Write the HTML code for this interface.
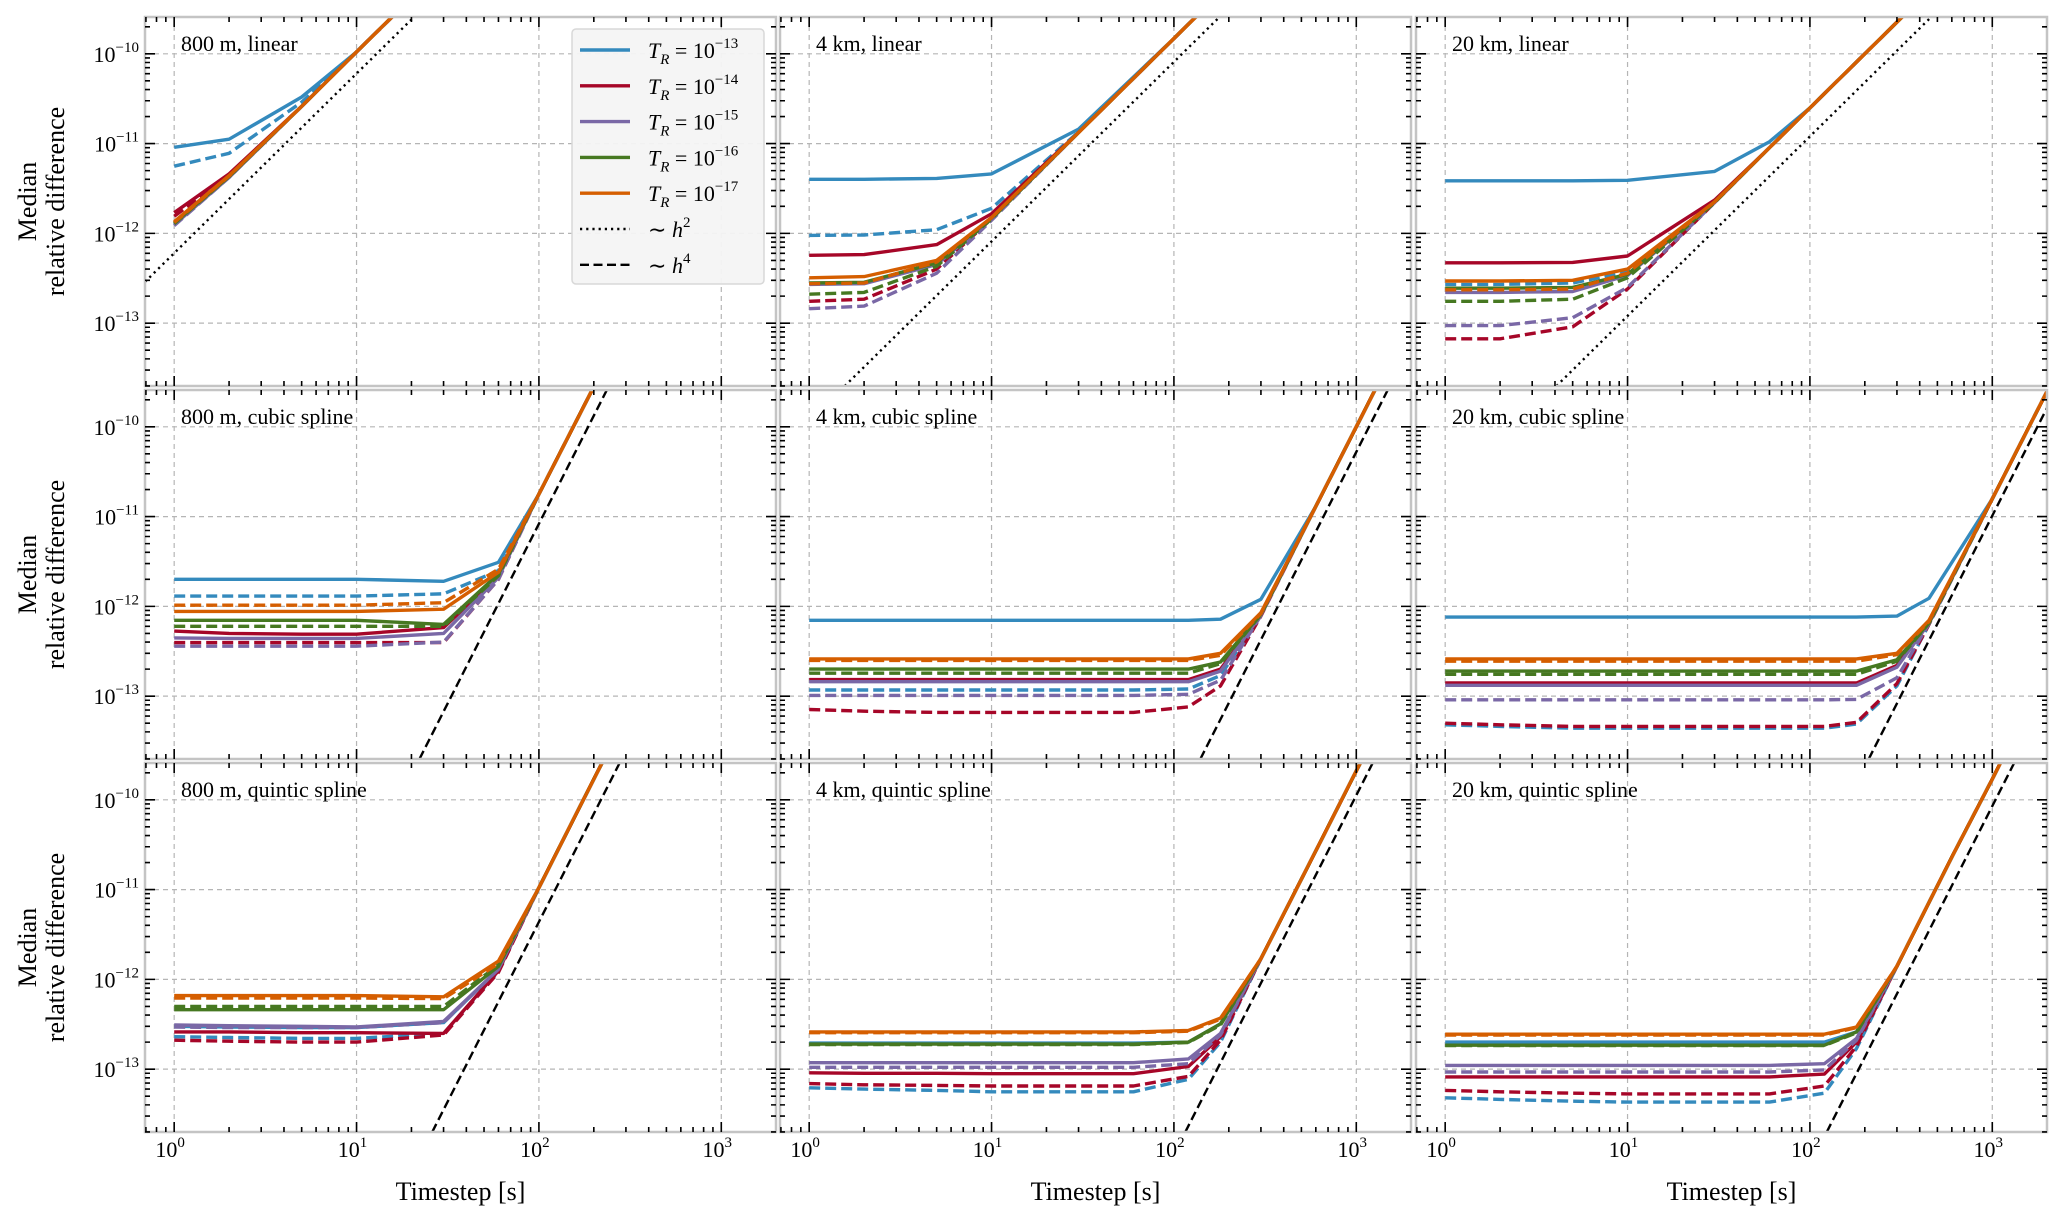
<!DOCTYPE html>
<html><head><meta charset="utf-8"><style>
html,body{margin:0;padding:0;background:#fff;width:2067px;height:1214px;overflow:hidden;}
svg{display:block;font-family:"Liberation Serif",serif;}
</style></head><body>
<svg id="chart" width="2067" height="1214" viewBox="0 0 2067 1214" xmlns="http://www.w3.org/2000/svg"></svg>
<script>
// ---- data ----
const seriesNames = ['TR-1e-13 solid','TR-1e-13 dashed','TR-1e-14 solid','TR-1e-14 dashed','TR-1e-15 solid','TR-1e-15 dashed','TR-1e-16 solid','TR-1e-16 dashed','TR-1e-17 solid','TR-1e-17 dashed'];
const seriesColors = ['#348ABD','#348ABD','#A60628','#A60628','#7A68A6','#7A68A6','#467821','#467821','#D55E00','#D55E00'];
const panelTitles = ['800 m, linear','4 km, linear','20 km, linear','800 m, cubic spline','4 km, cubic spline','20 km, cubic spline','800 m, quintic spline','4 km, quintic spline','20 km, quintic spline'];
const legendLabels = ['−13','−14','−15','−16','−17'];
const xTickExps = [0,1,2,3];
const yTickExps = [-10,-11,-12,-13];
const refPower = [2,2,2,4,4,4,4,4,4];
const refLogCoef = [-12.22,-14.09,-14.92,-19.08,-22.28,-22.99,-19.36,-21.95,-22.07];

const xA = [1,2,5,10,20,50];
const yA = [
 [9.1e-12,1.12e-11,3.3e-11,1.05e-10,4.2e-10,2.6e-9],
 [5.6e-12,7.8e-12,2.9e-11,1.05e-10,4.2e-10,2.6e-9],
 [1.7e-12,4.6e-12,2.6e-11,1.05e-10,4.2e-10,2.6e-9],
 [1.55e-12,4.4e-12,2.6e-11,1.05e-10,4.2e-10,2.6e-9],
 [1.25e-12,4.2e-12,2.6e-11,1.05e-10,4.2e-10,2.6e-9],
 [1.22e-12,4.2e-12,2.6e-11,1.05e-10,4.2e-10,2.6e-9],
 [1.3e-12,4.3e-12,2.6e-11,1.05e-10,4.2e-10,2.6e-9],
 [1.28e-12,4.3e-12,2.6e-11,1.05e-10,4.2e-10,2.6e-9],
 [1.35e-12,4.4e-12,2.6e-11,1.05e-10,4.2e-10,2.6e-9],
 [1.32e-12,4.35e-12,2.6e-11,1.05e-10,4.2e-10,2.6e-9]];
const xB = [1,2,5,10,30,100,300];
const yB = [
 [4e-12,4e-12,4.1e-12,4.6e-12,1.45e-11,1.48e-10,1.33e-9],
 [9.5e-13,9.6e-13,1.1e-12,1.9e-12,1.35e-11,1.48e-10,1.33e-9],
 [5.7e-13,5.8e-13,7.5e-13,1.65e-12,1.33e-11,1.48e-10,1.33e-9],
 [1.75e-13,1.85e-13,4e-13,1.45e-12,1.33e-11,1.48e-10,1.33e-9],
 [2.7e-13,2.75e-13,4.5e-13,1.45e-12,1.33e-11,1.48e-10,1.33e-9],
 [1.45e-13,1.55e-13,3.6e-13,1.4e-12,1.33e-11,1.48e-10,1.33e-9],
 [2.8e-13,2.85e-13,4.7e-13,1.48e-12,1.33e-11,1.48e-10,1.33e-9],
 [2.1e-13,2.2e-13,4.3e-13,1.45e-12,1.33e-11,1.48e-10,1.33e-9],
 [3.2e-13,3.3e-13,5e-13,1.5e-12,1.33e-11,1.48e-10,1.33e-9],
 [2.75e-13,2.8e-13,4.8e-13,1.5e-12,1.33e-11,1.48e-10,1.33e-9]];
const xC = [1,2,5,10,30,60,100,300,1000];
const yC = [
 [3.85e-12,3.85e-12,3.85e-12,3.9e-12,4.9e-12,1.05e-11,2.5e-11,2.25e-10,2.5e-9],
 [2.7e-13,2.7e-13,2.8e-13,3.7e-13,2.25e-12,9e-12,2.5e-11,2.25e-10,2.5e-9],
 [4.7e-13,4.7e-13,4.75e-13,5.6e-13,2.35e-12,9e-12,2.5e-11,2.25e-10,2.5e-9],
 [6.7e-14,6.7e-14,9.1e-14,2.4e-13,2.2e-12,9e-12,2.5e-11,2.25e-10,2.5e-9],
 [2.2e-13,2.2e-13,2.25e-13,3.4e-13,2.2e-12,9e-12,2.5e-11,2.25e-10,2.5e-9],
 [9.4e-14,9.4e-14,1.15e-13,2.5e-13,2.2e-12,9e-12,2.5e-11,2.25e-10,2.5e-9],
 [2.45e-13,2.45e-13,2.5e-13,3.5e-13,2.25e-12,9e-12,2.5e-11,2.25e-10,2.5e-9],
 [1.75e-13,1.75e-13,1.85e-13,3.2e-13,2.2e-12,9e-12,2.5e-11,2.25e-10,2.5e-9],
 [2.95e-13,2.95e-13,3e-13,4e-13,2.25e-12,9e-12,2.5e-11,2.25e-10,2.5e-9],
 [2.35e-13,2.35e-13,2.4e-13,3.6e-13,2.25e-12,9e-12,2.5e-11,2.25e-10,2.5e-9]];
const xD = [1,2,5,10,30,60,100,200,300];
const yD = [
 [2e-12,2e-12,2e-12,2e-12,1.9e-12,3.1e-12,1.78e-11,2.8e-10,1.44e-9],
 [1.3e-12,1.3e-12,1.3e-12,1.3e-12,1.38e-12,2.5e-12,1.78e-11,2.8e-10,1.44e-9],
 [5.3e-13,5e-13,4.9e-13,4.9e-13,5.8e-13,2.2e-12,1.78e-11,2.8e-10,1.44e-9],
 [3.95e-13,3.95e-13,3.95e-13,3.95e-13,3.95e-13,2e-12,1.78e-11,2.8e-10,1.44e-9],
 [4.45e-13,4.4e-13,4.4e-13,4.4e-13,5e-13,2.1e-12,1.78e-11,2.8e-10,1.44e-9],
 [3.6e-13,3.6e-13,3.6e-13,3.6e-13,4e-13,2e-12,1.78e-11,2.8e-10,1.44e-9],
 [7e-13,7e-13,7e-13,7e-13,6.3e-13,2.3e-12,1.78e-11,2.8e-10,1.44e-9],
 [6e-13,6e-13,6e-13,6e-13,6e-13,2.2e-12,1.78e-11,2.8e-10,1.44e-9],
 [8.8e-13,8.8e-13,8.8e-13,8.8e-13,9.3e-13,2.4e-12,1.78e-11,2.8e-10,1.44e-9],
 [1.03e-12,1.03e-12,1.03e-12,1.03e-12,1.1e-12,2.6e-12,1.78e-11,2.8e-10,1.44e-9]];
const xE = [1,2,5,10,30,60,120,180,300,600,1000,2000];
const yE = [
 [7e-13,7e-13,7e-13,7e-13,7e-13,7e-13,7e-13,7.2e-13,1.2e-12,1.3e-11,1e-10,1.6e-9],
 [1.17e-13,1.17e-13,1.17e-13,1.17e-13,1.17e-13,1.17e-13,1.2e-13,1.7e-13,8e-13,1.3e-11,1e-10,1.6e-9],
 [1.53e-13,1.53e-13,1.53e-13,1.53e-13,1.53e-13,1.53e-13,1.53e-13,2e-13,8e-13,1.3e-11,1e-10,1.6e-9],
 [7.1e-14,6.8e-14,6.6e-14,6.6e-14,6.6e-14,6.6e-14,7.6e-14,1.3e-13,7.8e-13,1.3e-11,1e-10,1.6e-9],
 [1.45e-13,1.45e-13,1.45e-13,1.45e-13,1.45e-13,1.45e-13,1.45e-13,1.9e-13,8e-13,1.3e-11,1e-10,1.6e-9],
 [1.02e-13,1.02e-13,1.02e-13,1.02e-13,1.02e-13,1.02e-13,1.05e-13,1.5e-13,7.9e-13,1.3e-11,1e-10,1.6e-9],
 [2e-13,2e-13,2e-13,2e-13,2e-13,2e-13,2e-13,2.4e-13,8.2e-13,1.3e-11,1e-10,1.6e-9],
 [1.8e-13,1.8e-13,1.8e-13,1.8e-13,1.8e-13,1.8e-13,1.8e-13,2.3e-13,8.1e-13,1.3e-11,1e-10,1.6e-9],
 [2.6e-13,2.6e-13,2.6e-13,2.6e-13,2.6e-13,2.6e-13,2.6e-13,3e-13,8.5e-13,1.3e-11,1e-10,1.6e-9],
 [2.5e-13,2.5e-13,2.5e-13,2.5e-13,2.5e-13,2.5e-13,2.5e-13,2.85e-13,8.3e-13,1.3e-11,1e-10,1.6e-9]];
const xF = [1,2,5,10,30,60,120,180,300,450,1000,2000];
const yF = [
 [7.6e-13,7.6e-13,7.6e-13,7.6e-13,7.6e-13,7.6e-13,7.6e-13,7.6e-13,7.8e-13,1.23e-12,1.58e-11,2.5e-10],
 [4.8e-14,4.6e-14,4.4e-14,4.4e-14,4.4e-14,4.4e-14,4.4e-14,4.9e-14,1.3e-13,6.3e-13,1.58e-11,2.5e-10],
 [1.4e-13,1.4e-13,1.4e-13,1.4e-13,1.4e-13,1.4e-13,1.4e-13,1.4e-13,2.2e-13,6.5e-13,1.58e-11,2.5e-10],
 [5e-14,4.8e-14,4.6e-14,4.6e-14,4.6e-14,4.6e-14,4.6e-14,5.1e-14,1.38e-13,6.3e-13,1.58e-11,2.5e-10],
 [1.32e-13,1.32e-13,1.32e-13,1.32e-13,1.32e-13,1.32e-13,1.32e-13,1.32e-13,2.1e-13,6.5e-13,1.58e-11,2.5e-10],
 [9.1e-14,9.1e-14,9.1e-14,9.1e-14,9.1e-14,9.1e-14,9.1e-14,9.2e-14,1.6e-13,6.4e-13,1.58e-11,2.5e-10],
 [1.9e-13,1.9e-13,1.9e-13,1.9e-13,1.9e-13,1.9e-13,1.9e-13,1.9e-13,2.55e-13,6.6e-13,1.58e-11,2.5e-10],
 [1.75e-13,1.75e-13,1.75e-13,1.75e-13,1.75e-13,1.75e-13,1.75e-13,1.75e-13,2.45e-13,6.5e-13,1.58e-11,2.5e-10],
 [2.6e-13,2.6e-13,2.6e-13,2.6e-13,2.6e-13,2.6e-13,2.6e-13,2.6e-13,3e-13,7e-13,1.58e-11,2.5e-10],
 [2.45e-13,2.45e-13,2.45e-13,2.45e-13,2.45e-13,2.45e-13,2.45e-13,2.45e-13,2.9e-13,6.8e-13,1.58e-11,2.5e-10]];
const xG = [1,2,5,10,30,60,100,200,300];
const yG = [
 [3e-13,2.95e-13,2.9e-13,2.9e-13,3.3e-13,1.3e-12,1.05e-11,1.7e-10,8.5e-10],
 [2.3e-13,2.25e-13,2.2e-13,2.2e-13,2.5e-13,1.22e-12,1.05e-11,1.7e-10,8.5e-10],
 [2.6e-13,2.6e-13,2.55e-13,2.55e-13,2.5e-13,1.25e-12,1.05e-11,1.7e-10,8.5e-10],
 [2.1e-13,2.05e-13,2e-13,2e-13,2.4e-13,1.2e-12,1.05e-11,1.7e-10,8.5e-10],
 [3.1e-13,3.05e-13,3e-13,2.95e-13,3.4e-13,1.3e-12,1.05e-11,1.7e-10,8.5e-10],
 [2.95e-13,2.9e-13,2.9e-13,2.9e-13,3.3e-13,1.3e-12,1.05e-11,1.7e-10,8.5e-10],
 [4.6e-13,4.6e-13,4.6e-13,4.6e-13,4.6e-13,1.4e-12,1.05e-11,1.7e-10,8.5e-10],
 [5e-13,5e-13,5e-13,5e-13,5e-13,1.45e-12,1.05e-11,1.7e-10,8.5e-10],
 [6.6e-13,6.6e-13,6.6e-13,6.6e-13,6.4e-13,1.6e-12,1.05e-11,1.7e-10,8.5e-10],
 [6.2e-13,6.2e-13,6.2e-13,6.2e-13,6.1e-13,1.5e-12,1.05e-11,1.7e-10,8.5e-10]];
const xH = [1,2,5,10,30,60,120,180,300,600,1000,2000];
const yH = [
 [1.95e-13,1.95e-13,1.95e-13,1.95e-13,1.95e-13,1.95e-13,2e-13,3.2e-13,1.7e-12,2.7e-11,2.1e-10,3.3e-9],
 [6.2e-14,6e-14,5.8e-14,5.6e-14,5.6e-14,5.6e-14,7.7e-14,2e-13,1.7e-12,2.7e-11,2.1e-10,3.3e-9],
 [9.1e-14,9e-14,9e-14,8.9e-14,8.9e-14,8.9e-14,1.07e-13,2.3e-13,1.7e-12,2.7e-11,2.1e-10,3.3e-9],
 [6.9e-14,6.7e-14,6.6e-14,6.5e-14,6.5e-14,6.5e-14,8.3e-14,2.1e-13,1.7e-12,2.7e-11,2.1e-10,3.3e-9],
 [1.18e-13,1.18e-13,1.18e-13,1.18e-13,1.18e-13,1.18e-13,1.3e-13,2.5e-13,1.7e-12,2.7e-11,2.1e-10,3.3e-9],
 [1.05e-13,1.05e-13,1.05e-13,1.05e-13,1.05e-13,1.05e-13,1.15e-13,2.4e-13,1.7e-12,2.7e-11,2.1e-10,3.3e-9],
 [1.9e-13,1.9e-13,1.9e-13,1.9e-13,1.9e-13,1.9e-13,2e-13,3.2e-13,1.7e-12,2.7e-11,2.1e-10,3.3e-9],
 [1.88e-13,1.88e-13,1.88e-13,1.88e-13,1.88e-13,1.88e-13,1.98e-13,3.1e-13,1.7e-12,2.7e-11,2.1e-10,3.3e-9],
 [2.6e-13,2.6e-13,2.6e-13,2.6e-13,2.6e-13,2.6e-13,2.7e-13,3.7e-13,1.7e-12,2.7e-11,2.1e-10,3.3e-9],
 [2.55e-13,2.55e-13,2.55e-13,2.55e-13,2.55e-13,2.55e-13,2.65e-13,3.6e-13,1.7e-12,2.7e-11,2.1e-10,3.3e-9]];
const xI = [1,2,5,10,30,60,120,180,300,600,1000,2000];
const yI = [
 [2e-13,2e-13,2e-13,2e-13,2e-13,2e-13,2e-13,2.6e-13,1.4e-12,2.3e-11,1.7e-10,2.8e-9],
 [4.8e-14,4.6e-14,4.4e-14,4.3e-14,4.3e-14,4.3e-14,5.4e-14,1.7e-13,1.4e-12,2.3e-11,1.7e-10,2.8e-9],
 [8.2e-14,8.2e-14,8.2e-14,8.2e-14,8.2e-14,8.2e-14,8.8e-14,2e-13,1.4e-12,2.3e-11,1.7e-10,2.8e-9],
 [5.8e-14,5.6e-14,5.4e-14,5.3e-14,5.3e-14,5.3e-14,6.5e-14,1.8e-13,1.4e-12,2.3e-11,1.7e-10,2.8e-9],
 [1.1e-13,1.1e-13,1.1e-13,1.1e-13,1.1e-13,1.1e-13,1.15e-13,2.2e-13,1.4e-12,2.3e-11,1.7e-10,2.8e-9],
 [9.3e-14,9.3e-14,9.3e-14,9.3e-14,9.3e-14,9.3e-14,9.8e-14,2.1e-13,1.4e-12,2.3e-11,1.7e-10,2.8e-9],
 [1.85e-13,1.85e-13,1.85e-13,1.85e-13,1.85e-13,1.85e-13,1.85e-13,2.6e-13,1.4e-12,2.3e-11,1.7e-10,2.8e-9],
 [1.83e-13,1.83e-13,1.83e-13,1.83e-13,1.83e-13,1.83e-13,1.83e-13,2.55e-13,1.4e-12,2.3e-11,1.7e-10,2.8e-9],
 [2.45e-13,2.45e-13,2.45e-13,2.45e-13,2.45e-13,2.45e-13,2.45e-13,2.95e-13,1.4e-12,2.3e-11,1.7e-10,2.8e-9],
 [2.4e-13,2.4e-13,2.4e-13,2.4e-13,2.4e-13,2.4e-13,2.4e-13,2.9e-13,1.4e-12,2.3e-11,1.7e-10,2.8e-9]];
const panelX = [xA,xB,xC,xD,xE,xF,xG,xH,xI];
const panelY = [yA,yB,yC,yD,yE,yF,yG,yH,yI];

// ---- layout ----
const NS='http://www.w3.org/2000/svg';
const svg=document.getElementById('chart');
const colLeft=[145,780,1416], rowTop=[17,390,763], PW=631, PH=369;
const LX0=-0.16, LX1=3.30, LY0=-13.70, LY1=-9.59;
function mk(tag,attrs,parent){const e=document.createElementNS(NS,tag);for(const k in attrs)e.setAttribute(k,attrs[k]);(parent||svg).appendChild(e);return e;}
function sx(p,v){return colLeft[p%3]+(Math.log10(v)-LX0)/(LX1-LX0)*PW;}
function sy(p,v){return rowTop[Math.floor(p/3)]+(LY1-Math.log10(v))/(LY1-LY0)*PH;}
function powLabel(parent,x,y,exp,anchor,name){
  const t=mk('text',{x:x,y:y,'font-size':22,'text-anchor':anchor,fill:'#000'},parent);
  
  
  t.appendChild(document.createTextNode('10'));
  const s=mk('tspan',{dy:-10,'font-size':15},t);s.textContent=exp;
  return t;
}
const defs=mk('defs',{});
for(let p=0;p<9;p++){
  const cl=mk('clipPath',{id:'clip'+p},defs);
  mk('rect',{x:colLeft[p%3],y:rowTop[Math.floor(p/3)],width:PW,height:PH},cl);
}
for(let p=0;p<9;p++){
  const L=colLeft[p%3],T=rowTop[Math.floor(p/3)],row=Math.floor(p/3),col=p%3;
  const g=mk('g',{});
  
  
  mk('rect',{x:L,y:T,width:PW,height:PH,fill:'#fff'},g);
  for(const e of xTickExps){const x=sx(p,Math.pow(10,e));const gl=mk('line',{x1:x,x2:x,y1:T,y2:T+PH,stroke:'#b5b5b5','stroke-width':1.2,'stroke-dasharray':'5 4'},g);}
  for(const e of yTickExps){const y=sy(p,Math.pow(10,e));const gl=mk('line',{x1:L,x2:L+PW,y1:y,y2:y,stroke:'#b5b5b5','stroke-width':1.2,'stroke-dasharray':'5 4'},g);}
  const cg=mk('g',{'clip-path':'url(#clip'+p+')'},g);
  // reference line, clipped analytically to the panel (log space)
  const c=refLogCoef[p], pw=refPower[p];
  let lxa=Math.max(LX0,(LY0-c)/pw), lxb=Math.min(LX1,(LY1-c)/pw);
  const xa=Math.pow(10,lxa),xb=Math.pow(10,lxb);
  const ya=Math.pow(10,c)*Math.pow(xa,pw);
  const yb=Math.pow(10,c)*Math.pow(xb,pw);
  const dotted=pw===2;
  const rl=mk('line',{x1:sx(p,xa),y1:sy(p,ya),x2:sx(p,xb),y2:sy(p,yb),stroke:'#000','stroke-width':2.4,'stroke-dasharray':dotted?'2.2 4':'9 4.5'},cg);
  
  
  const xs=panelX[p],ys=panelY[p];
  for(let s=0;s<10;s++){
    const pts=xs.map((x,i)=>sx(p,x).toFixed(1)+','+sy(p,ys[s][i]).toFixed(1)).join(' ');
    const pl=mk('polyline',{points:pts,fill:'none',stroke:seriesColors[s],'stroke-width':3.4,'stroke-linejoin':'round','stroke-dasharray':s%2?'11 5':'none'},cg);
    
    
  }
  const sp=mk('rect',{x:L,y:T,width:PW,height:PH,fill:'none',stroke:'#c4c4c4','stroke-width':2.5},g);
  
  
  let tp='';
  for(let e=-1;e<=4;e++)for(let m=1;m<10;m++){
    const v=m*Math.pow(10,e),lx=Math.log10(v);
    if(lx<LX0||lx>LX1)continue;const x=sx(p,v);const len=m===1?10:5;
    tp+=`M${x} ${T+PH}v${-len}M${x} ${T}v${len}`;
  }
  for(let e=-14;e<=-9;e++)for(let m=1;m<10;m++){
    const v=m*Math.pow(10,e),ly=Math.log10(v);
    if(ly<LY0||ly>LY1)continue;const y=sy(p,v);const len=m===1?10:5;
    tp+=`M${L} ${y}h${len}M${L+PW} ${y}h${-len}`;
  }
  const tk=mk('path',{d:tp,stroke:'#000','stroke-width':1.6,fill:'none'},g);
  
  
  const tt=mk('text',{x:L+36,y:T+34,'font-size':22,fill:'#000'},g);
  tt.textContent=panelTitles[p];
  
  
  if(col===0){
    for(const e of yTickExps){powLabel(g,L-6,sy(p,Math.pow(10,e))+8,'−'+(-e),'end','y-tick-label');}
    const yl=mk('text',{transform:`translate(0,${T+PH/2}) rotate(-90)`,'font-size':26,'text-anchor':'middle',fill:'#000'},g);
    
    
    const a=mk('tspan',{x:0,y:36},yl);a.textContent='Median';
    const b=mk('tspan',{x:0,y:64},yl);b.textContent='relative difference';
  }
  if(row===2){
    for(const e of xTickExps){powLabel(g,sx(p,Math.pow(10,e))-4,T+PH+25,String(e),'middle','x-tick-label');}
    const xl=mk('text',{x:L+PW/2,y:T+PH+68,'font-size':26,'text-anchor':'middle',fill:'#000'},g);
    xl.textContent='Timestep [s]';
    
    
  }
}
const lg=mk('g',{});


mk('rect',{x:572,y:29,width:192,height:255,rx:4,fill:'#f4f4f4','fill-opacity':0.95,stroke:'#d8d8d8','stroke-width':1.5},lg);
const legColors=['#348ABD','#A60628','#7A68A6','#467821','#D55E00'];
for(let i=0;i<7;i++){
  const y=50+i*35.8;
  const e=mk('g',{},lg);
  
  
  if(i<5){
    mk('line',{x1:580,x2:630,y1:y,y2:y,stroke:legColors[i],'stroke-width':3.4},e);
    const t=mk('text',{x:648,y:y+8,'font-size':22,fill:'#000'},e);
    const a=mk('tspan',{'font-style':'italic'},t);a.textContent='T';
    const b=mk('tspan',{'font-style':'italic','font-size':15,dy:6},t);b.textContent='R';
    const c2=mk('tspan',{dy:-6},t);c2.textContent=' = 10';
    const d=mk('tspan',{'font-size':15,dy:-10},t);d.textContent=legendLabels[i];
  } else {
    mk('line',{x1:580,x2:630,y1:y,y2:y,stroke:'#000','stroke-width':2.4,'stroke-dasharray':i===5?'2.2 4':'9 4.5'},e);
    const t=mk('text',{x:648,y:y+8,'font-size':22,fill:'#000'},e);
    const a=mk('tspan',{},t);a.textContent='∼ ';
    const b=mk('tspan',{'font-style':'italic'},t);b.textContent='h';
    const c2=mk('tspan',{'font-size':15,dy:-10},t);c2.textContent=i===5?'2':'4';
  }
}
</script>
</body></html>
